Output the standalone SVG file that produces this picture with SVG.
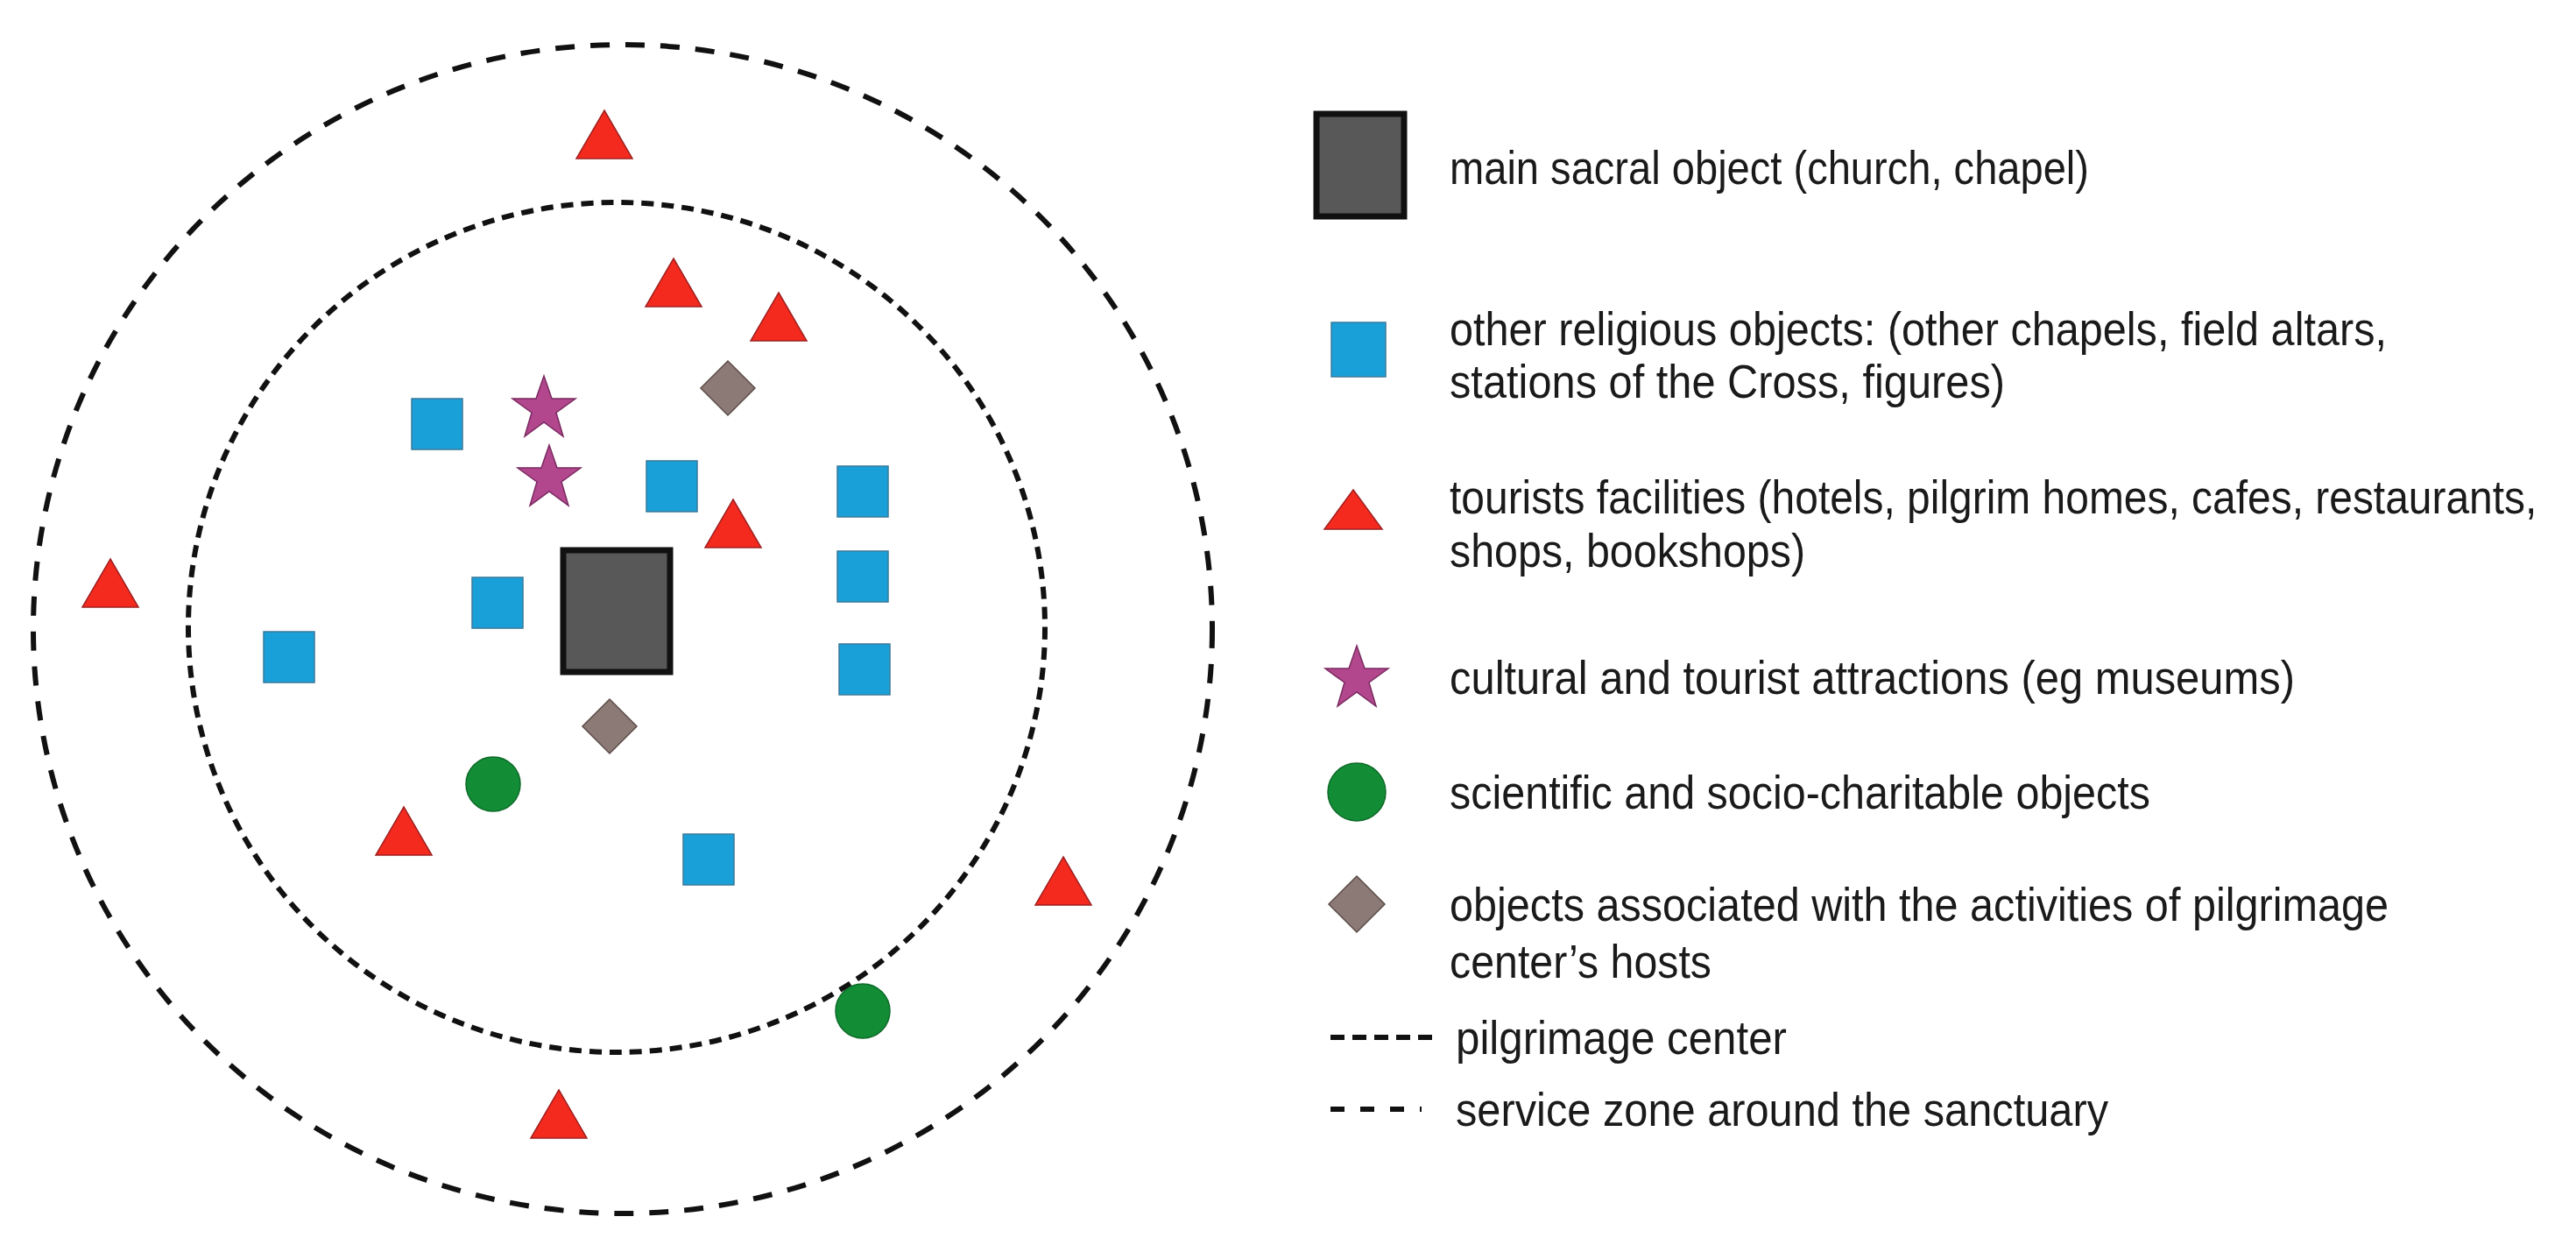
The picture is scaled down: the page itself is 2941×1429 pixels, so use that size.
<svg xmlns="http://www.w3.org/2000/svg" width="2941" height="1429" viewBox="0 0 2941 1429">
<style>
.sq{fill:#1aa0d8;stroke:#3a7a9a;stroke-width:1.5}
.tr{fill:#f52a1e;stroke:#a02020;stroke-width:1.5}
.st{fill:#b2478e;stroke:#7a2a60;stroke-width:1.5}
.ci{fill:#138c36;stroke:#0c6a28;stroke-width:1.5}
.di{fill:#8c7a76;stroke:#5c4c48;stroke-width:1.5}
.main{fill:#585858;stroke:#111;stroke-width:7}
.t{font-family:"Liberation Sans Narrow","Liberation Sans",Arial,sans-serif;font-size:54px;fill:#1a1a1a}
</style>
<defs>
<rect id="bsq" class="sq" x="-29" y="-29" width="58" height="58"/>
<polygon id="btr" class="tr" points="0,-28 32,27 -32,27"/>
<polygon id="bst" class="st" points="0,-38 9,-12 36,-12 14,4 22,31 0,15 -22,31 -14,4 -36,-12 -9,-12"/>
<polygon id="bdi" class="di" points="0,-31 31,0 0,31 -31,0"/>
<circle id="bci" class="ci" r="31"/>
</defs>
<rect width="2941" height="1429" fill="#fff"/>
<g id="zones" fill="none" stroke="#111" stroke-width="6">
<ellipse id="service-zone" cx="711" cy="718" rx="673" ry="667" stroke-dasharray="22 18"/>
<ellipse id="pilgrimage-center" cx="704" cy="716" rx="489" ry="485" stroke-dasharray="14 9"/>
</g>
<g id="main-object"><rect class="main" x="643" y="628" width="122" height="139"/></g>
<g id="religious">
<use href="#bsq" x="499" y="484"/><use href="#bsq" x="767" y="555"/><use href="#bsq" x="985" y="561"/>
<use href="#bsq" x="985" y="658"/><use href="#bsq" x="987" y="764"/><use href="#bsq" x="568" y="688"/>
<use href="#bsq" x="330" y="750"/><use href="#bsq" x="809" y="981"/>
</g>
<g id="tourist-facilities">
<use href="#btr" x="690" y="154"/><use href="#btr" x="769" y="323"/><use href="#btr" x="889" y="362"/>
<use href="#btr" x="837" y="598"/><use href="#btr" x="126" y="666"/><use href="#btr" x="461" y="949"/>
<use href="#btr" x="1214" y="1006"/><use href="#btr" x="638" y="1272"/>
</g>
<g id="attractions"><use href="#bst" x="621" y="467"/><use href="#bst" x="627" y="546"/></g>
<g id="hosts"><use href="#bdi" x="831" y="443"/><use href="#bdi" x="696" y="829"/></g>
<g id="charitable"><use href="#bci" x="563" y="895"/><use href="#bci" x="985" y="1154"/></g>
<g id="legend">
<rect class="main" x="1503" y="130" width="100" height="117"/>
<text class="t" x="1655" y="210" textLength="730" lengthAdjust="spacingAndGlyphs">main sacral object (church, chapel)</text>
<rect class="sq" x="1520" y="368" width="62" height="62"/>
<text class="t" x="1655" y="394" textLength="1070" lengthAdjust="spacingAndGlyphs">other religious objects: (other chapels, field altars,</text>
<text class="t" x="1655" y="454" textLength="634" lengthAdjust="spacingAndGlyphs">stations of the Cross, figures)</text>
<polygon class="tr" points="1545,559 1578,604 1512,604"/>
<text class="t" style="font-size:47px" transform="translate(1655,586) scale(1.02,1.15)">tourists facilities (hotels, pilgrim homes, cafes, restaurants,</text>
<text class="t" x="1655" y="647" textLength="406" lengthAdjust="spacingAndGlyphs">shops, bookshops)</text>
<use href="#bst" x="1549" y="775"/>
<text class="t" x="1655" y="792" textLength="965" lengthAdjust="spacingAndGlyphs">cultural and tourist attractions  (eg museums)</text>
<circle class="ci" cx="1549" cy="904" r="33"/>
<text class="t" x="1655" y="923" textLength="800" lengthAdjust="spacingAndGlyphs">scientific and socio-charitable objects</text>
<polygon class="di" points="1549,1000 1581,1032 1549,1064 1517,1032"/>
<text class="t" x="1655" y="1051" textLength="1072" lengthAdjust="spacingAndGlyphs">objects associated with the activities of pilgrimage</text>
<text class="t" x="1655" y="1116" textLength="299" lengthAdjust="spacingAndGlyphs">center’s hosts</text>
<line x1="1519" y1="1184" x2="1641" y2="1184" stroke="#111" stroke-width="6" stroke-dasharray="16 9"/>
<text class="t" x="1662" y="1203" textLength="378" lengthAdjust="spacingAndGlyphs">pilgrimage center</text>
<line x1="1519" y1="1266" x2="1623" y2="1266" stroke="#111" stroke-width="6" stroke-dasharray="16 18"/>
<text class="t" x="1662" y="1285" textLength="745" lengthAdjust="spacingAndGlyphs">service zone around the sanctuary</text>
</g>
</svg>
